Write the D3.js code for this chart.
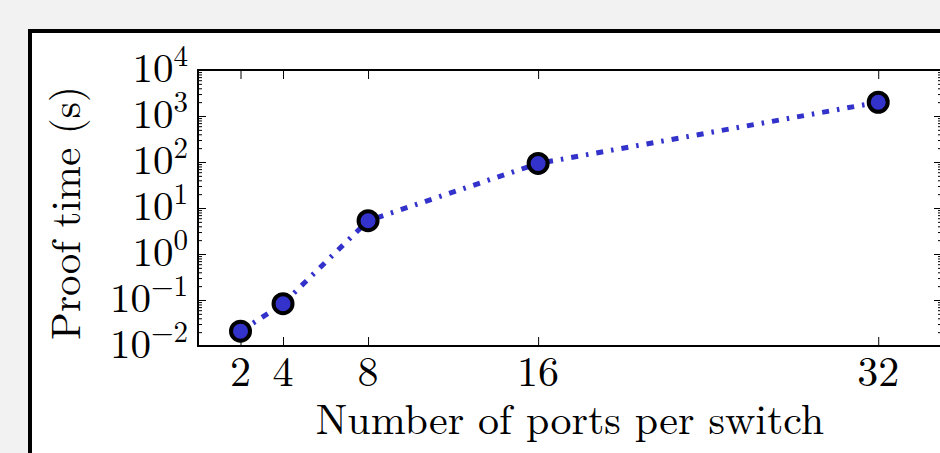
<!DOCTYPE html>
<html>
<head>
<meta charset="utf-8">
<script src="https://cdn.jsdelivr.net/npm/d3@7"></script>
<style>
  html, body { margin: 0; padding: 0; background: #f2f2f2; }
  svg { display: block; }
  text { font-family: "Latin Modern Roman", "CMU Serif", "Liberation Serif", serif; fill: #000; }
</style>
</head>
<body>
<div id="chart"></div>
<script>
// Data
const ports = [2, 4, 8, 16, 32];
const proofTimes = [0.021, 0.083, 5.3, 93, 1990];
const xTicks = [2, 4, 8, 16, 32];
const yExponents = [-2, -1, 0, 1, 2, 3, 4];

const W = 940, H = 453;
const plot = { left: 198, top: 70, right: 942, bottom: 346 };

const svg = d3.select("#chart").append("svg")
  .attr("width", W).attr("height", H)
  .attr("viewBox", [0, 0, W, H]);

svg.append("rect").attr("width", W).attr("height", H).attr("fill", "#f2f2f2");

// white figure panel with thick black frame (runs off right/bottom)
svg.append("rect")
  .attr("x", 30).attr("y", 31)
  .attr("width", W + 50).attr("height", H + 50)
  .attr("fill", "#fff")
  .attr("stroke", "#000")
  .attr("stroke-width", 4);

const x = d3.scaleLinear().domain([0, 35]).range([plot.left, plot.right]);
const y = d3.scaleLog().domain([1e-2, 1e4]).range([plot.bottom, plot.top]);

const g = svg.append("g");

// minor log ticks
const minor = [];
yExponents.slice(0, -1).forEach((e) => {
  for (let k = 2; k <= 9; k++) minor.push(k * Math.pow(10, e));
});
const major = yExponents.map((e) => Math.pow(10, e));

function ticks(axis, tx, ty) {
  g.append("g")
    .attr("transform", `translate(${tx},${ty})`)
    .call(axis)
    .call((a) => a.select(".domain").remove())
    .selectAll("line").attr("stroke", "#000");
}

// Left / right axis ticks (inward)
ticks(d3.axisRight(y).tickValues(minor).tickSize(4).tickFormat(""), plot.left, 0);
ticks(d3.axisRight(y).tickValues(major).tickSize(8).tickFormat(""), plot.left, 0);
ticks(d3.axisLeft(y).tickValues(minor).tickSize(4).tickFormat(""), plot.right, 0);
ticks(d3.axisLeft(y).tickValues(major).tickSize(8).tickFormat(""), plot.right, 0);

// Bottom / top ticks (inward)
ticks(d3.axisTop(x).tickValues(xTicks).tickSize(9).tickFormat(""), 0, plot.bottom);
ticks(d3.axisBottom(x).tickValues(xTicks).tickSize(9).tickFormat(""), 0, plot.top);

// Spines
g.append("rect")
  .attr("x", plot.left).attr("y", plot.top)
  .attr("width", plot.right - plot.left)
  .attr("height", plot.bottom - plot.top)
  .attr("fill", "none")
  .attr("stroke", "#000")
  .attr("stroke-width", 2);

// X tick labels
g.selectAll(".xlab").data(xTicks).join("text")
  .attr("class", "xlab")
  .attr("x", (d) => x(d))
  .attr("y", 386)
  .attr("text-anchor", "middle")
  .style("font-size", "42px")
  .text((d) => d);

// Y tick labels: 10^e
const ylab = g.selectAll(".ylab").data(yExponents).join("text")
  .attr("class", "ylab")
  .attr("x", 188)
  .attr("y", (d) => y(Math.pow(10, d)) + 12)
  .attr("text-anchor", "end")
  .style("font-size", "41px");
ylab.append("tspan").text("10");
ylab.append("tspan")
  .attr("dy", -16)
  .style("font-size", "29px")
  .text((d) => (d < 0 ? "\u2212" + Math.abs(d) : d));

// Axis titles
svg.append("text")
  .attr("x", 570)
  .attr("y", 434)
  .attr("text-anchor", "middle")
  .style("font-size", "42px")
  .text("Number of ports per switch");

svg.append("text")
  .attr("transform", "translate(80,213) rotate(-90)")
  .attr("text-anchor", "middle")
  .style("font-size", "41px")
  .text("Proof time (s)");

// Series
const pts = ports.map((p, i) => [p, proofTimes[i]]);
const line = d3.line().x((d) => x(d[0])).y((d) => y(d[1]));

svg.append("path")
  .datum(pts)
  .attr("d", line)
  .attr("fill", "none")
  .attr("stroke", "#3333cc")
  .attr("stroke-width", 5)
  .attr("stroke-dasharray", "7,8,2.5,8");

svg.selectAll(".pt").data(pts).join("circle")
  .attr("class", "pt")
  .attr("cx", (d) => x(d[0]))
  .attr("cy", (d) => y(d[1]))
  .attr("r", 9.5)
  .attr("fill", "#3333cc")
  .attr("stroke", "#000")
  .attr("stroke-width", 4);
</script>
</body>
</html>
